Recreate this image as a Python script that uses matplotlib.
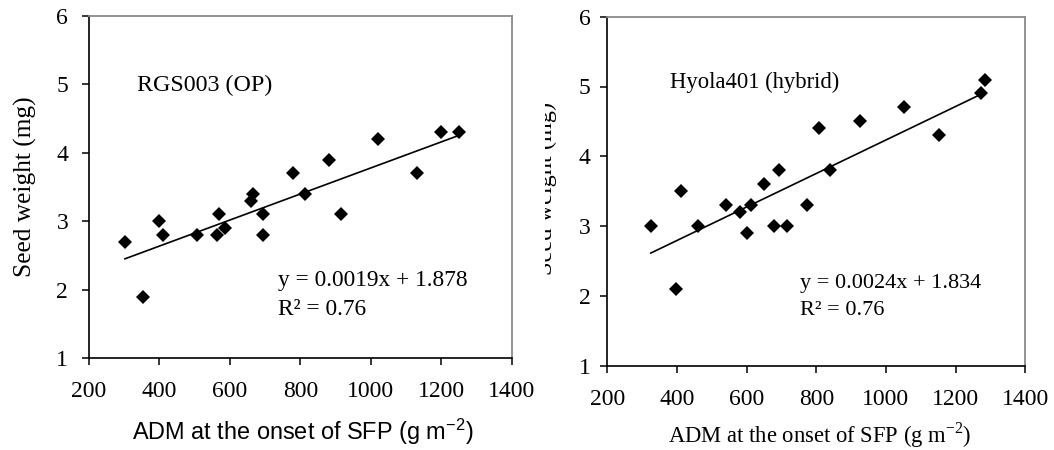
import matplotlib
matplotlib.use("Agg")
import matplotlib.pyplot as plt
import numpy as np
from matplotlib.patches import Rectangle

plt.rcParams['font.family'] = ['Liberation Serif', 'DejaVu Serif']
plt.rcParams['mathtext.fontset'] = 'custom'
plt.rcParams['mathtext.rm'] = 'Liberation Serif'
plt.rcParams['mathtext.sf'] = 'Liberation Sans'

# RGS003 (OP)
rgs_x = [302, 352, 398, 409, 507, 562, 569, 586, 659, 665, 694, 694, 779, 813, 881, 915, 1021, 1130, 1199, 1250]
rgs_y = [2.7, 1.9, 3.0, 2.8, 2.8, 2.8, 3.1, 2.9, 3.3, 3.4, 3.1, 2.8, 3.7, 3.4, 3.9, 3.1, 4.2, 3.7, 4.3, 4.3]
rgs_slope, rgs_int = 0.0019, 1.878

# Hyola401 (hybrid)
hyo_x = [325, 396, 411, 461, 542, 580, 601, 612, 650, 678, 694, 716, 774, 808, 839, 925, 1051, 1153, 1272, 1284]
hyo_y = [3.0, 2.1, 3.5, 3.0, 3.3, 3.2, 2.9, 3.3, 3.6, 3.0, 3.8, 3.0, 3.3, 4.4, 3.8, 4.5, 4.7, 4.3, 4.9, 5.1]
hyo_slope, hyo_int = 0.0024, 1.834

xticks = [200, 400, 600, 800, 1000, 1200, 1400]
yticks = [1, 2, 3, 4, 5, 6]

fig = plt.figure(figsize=(10.54, 4.5), dpi=100)
W, H = 1054, 450
ax1 = fig.add_axes([89/W, 1-358.3/H, (511.7-89)/W, (358.3-15.7)/H])
ax2 = fig.add_axes([607.3/W, 1-365.7/H, (1025.3-607.3)/W, (365.7-16.7)/H])

def style(ax, ypad, xpad):
    ax.set_xlim(200, 1400)
    ax.set_ylim(1, 6)
    ax.set_xticks(xticks)
    ax.set_yticks(yticks)
    ax.tick_params(direction='out', length=5, width=1.1, labelsize=17, colors='black')
    ax.tick_params(axis='y', pad=ypad)
    ax.tick_params(axis='x', pad=xpad)
    for s in ['left', 'bottom']:
        ax.spines[s].set_color('black')
        ax.spines[s].set_linewidth(1.2)
    for s in ['top', 'right']:
        ax.spines[s].set_color('#8a8a8a')
        ax.spines[s].set_linewidth(1.3)

style(ax1, 10, 11)
style(ax2, 7, 12)
for ax, xs, ys, m, b in [(ax1, rgs_x, rgs_y, rgs_slope, rgs_int), (ax2, hyo_x, hyo_y, hyo_slope, hyo_int)]:
    ax.plot(xs, ys, 'D', color='black', markersize=6.8, markeredgewidth=0, zorder=3)
    lx = np.array([min(xs), max(xs)])
    ax.plot(lx, m*lx + b, color='black', linewidth=1.2, zorder=2)

ax1.set_ylabel('Seed weight (mg)', fontsize=18.3, labelpad=14)
fig.text(302.5/W, 1-440/H, r'ADM at the onset of SFP (g m$^{\mathsf{-2}}$)', fontsize=16.9,
         family=['Liberation Sans'], ha='center', va='baseline')
ax1.text(337, 4.9, 'RGS003 (OP)', fontsize=17.3)
ax1.text(737, 2.05, 'y = 0.0019x + 1.878', fontsize=16.8)
ax1.text(737, 1.63, 'R² = 0.76', fontsize=16.8)

fig.text(819.5/W, 1-443/H, r'ADM at the onset of SFP (g m$^{-2}$)', fontsize=16.3,
         ha='center', va='baseline')
ax2.text(380, 4.98, 'Hyola401 (hybrid)', fontsize=16.3)
ax2.text(752, 2.12, 'y = 0.0024x + 1.834', fontsize=16)
ax2.text(752, 1.72, 'R² = 0.76', fontsize=16)

# clipped y label on right panel
yl = fig.text(546/W, 1-188/H, 'Seed weight (mg)', rotation=90, fontsize=17.5,
              ha='center', va='center')
fig.add_artist(Rectangle((528/W, 0.3), (545-528)/W, 0.6, transform=fig.transFigure,
                         facecolor='white', edgecolor='none', zorder=5))

fig.savefig('out.png', dpi=100)
